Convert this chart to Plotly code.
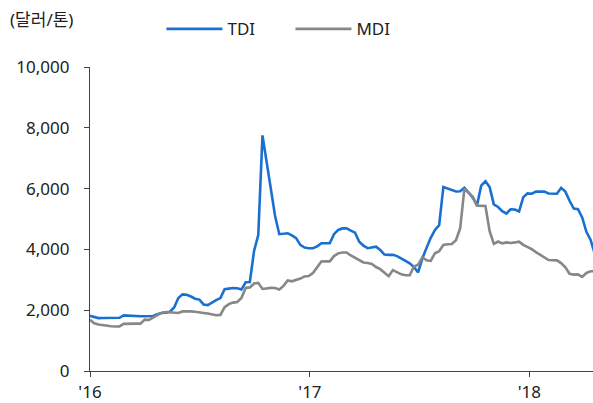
import pandas as pd
import plotly.graph_objects as go

# Weekly prices, USD per tonne, starting on the first week of 2016
start_date = "2016-01-01"

tdi = [
    1815, 1770, 1740, 1745, 1750, 1750, 1750, 1750, 1830, 1820,
    1800, 1800, 1800, 1800, 1800, 1810, 1870, 1910, 1920, 1950,
    2090, 2400, 2520, 2510, 2450, 2380, 2350, 2190, 2170, 2260,
    2330, 2400, 2690, 2710, 2730, 2720, 2680, 2920, 2930, 3950,
    4470, 7750, 6850, 6050, 5100, 4500, 4520, 4530, 4460, 4370,
    4150, 4060, 4040, 4040, 4100, 4200, 4200, 4200, 4500, 4640,
    4690, 4690, 4620, 4550, 4250, 4120, 4040, 4060, 4090, 3980,
    3830, 3820, 3820, 3780, 3710, 3620, 3540, 3420, 3245, 3700,
    4050, 4380, 4640, 4800, 6050, 6000, 5950, 5905, 5910, 6025,
    5870, 5700, 5450, 6100, 6240, 6050, 5480, 5395, 5260, 5180,
    5320, 5310, 5250, 5720, 5840, 5830, 5900, 5905, 5905, 5840,
    5830, 5830, 6025, 5900, 5600, 5340, 5320, 5050, 4580, 4310,
    3850,
]

mdi = [
    1685, 1570, 1530, 1505, 1495, 1470, 1465, 1465, 1550, 1560,
    1560, 1560, 1560, 1690, 1680, 1760, 1850, 1910, 1940, 1935,
    1920, 1910, 1960, 1970, 1960, 1950, 1940, 1910, 1890, 1865,
    1835, 1845, 2100, 2200, 2250, 2270, 2400, 2730, 2750, 2880,
    2900, 2700, 2720, 2735, 2730, 2680, 2800, 2980, 2950, 2990,
    3040, 3110, 3125, 3220, 3400, 3600, 3605, 3605, 3780, 3870,
    3900, 3900, 3800, 3720, 3640, 3570, 3550, 3520, 3420, 3350,
    3230, 3120, 3320, 3250, 3180, 3150, 3150, 3440, 3495, 3740,
    3640, 3620, 3875, 3940, 4150, 4170, 4180, 4300, 4700, 6000,
    5870, 5730, 5440, 5430, 5430, 4600, 4180, 4260, 4200, 4230,
    4210, 4230, 4255, 4150, 4080, 4010, 3910, 3820, 3730, 3650,
    3645, 3640, 3550, 3410, 3200, 3170, 3180, 3095, 3225, 3280,
    3280,
]

dates = pd.date_range(start_date, periods=len(tdi), freq="7D")

year_ticks = ["2016-01-01", "2017-01-01", "2018-01-01"]
year_labels = ["'16", "'17", "'18"]
y_ticks = [0, 2000, 4000, 6000, 8000, 10000]

FONT = "Noto Sans, Noto Sans CJK KR, sans-serif"
AXIS_COLOR = "#444444"

fig = go.Figure()
fig.add_trace(go.Scatter(
    x=dates, y=tdi, name="TDI", mode="lines",
    line=dict(color="#1a70d0", width=2.6),
))
fig.add_trace(go.Scatter(
    x=dates, y=mdi, name="MDI", mode="lines",
    line=dict(color="#878787", width=2.6),
))

fig.update_layout(
    width=593, height=403,
    margin=dict(l=90, r=0, t=67, b=29),
    paper_bgcolor="white", plot_bgcolor="white",
    font=dict(family=FONT, size=17, color="#222222"),
    showlegend=True,
    legend=dict(
        orientation="h", x=0.142, y=1.124, xanchor="left", yanchor="middle",
        itemwidth=56, entrywidth=58, font=dict(size=17), traceorder="normal",
    ),
    annotations=[dict(
        text="(달러/톤)", xref="paper", yref="paper",
        x=-0.163, y=1.155, xanchor="left", yanchor="middle",
        showarrow=False, font=dict(size=17),
    )],
)

fig.update_xaxes(
    type="date",
    range=["2016-01-01", "2018-04-17"],
    tickvals=year_ticks, ticktext=year_labels,
    showgrid=False, zeroline=False,
    showline=True, linecolor=AXIS_COLOR, linewidth=1.4,
    ticks="outside", ticklen=5, tickcolor=AXIS_COLOR, tickwidth=1.4,
)
fig.update_yaxes(
    range=[0, 10000],
    tickvals=y_ticks, tickformat=",d",
    showgrid=False, zeroline=False,
    showline=True, linecolor=AXIS_COLOR, linewidth=1.4,
    ticks="outside", ticklen=5, tickcolor=AXIS_COLOR, tickwidth=1.4,
    ticklabelstandoff=11,
)

fig.write_html("out.html")
